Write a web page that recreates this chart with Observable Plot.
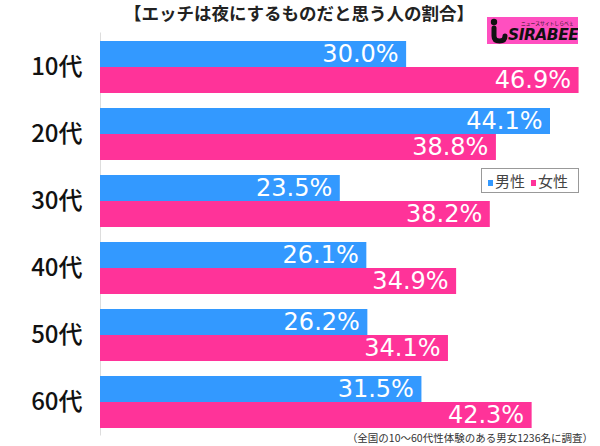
<!DOCTYPE html>
<html>
<head>
<meta charset="utf-8">
<script src="https://cdn.jsdelivr.net/npm/d3@7"></script>
<script src="https://cdn.jsdelivr.net/npm/@observablehq/plot@0.6"></script>
<style>
  html, body { margin: 0; padding: 0; background: #fff; }
  body { font-family: "Noto Sans CJK JP", "Noto Sans", sans-serif; }
  #wrap { position: relative; width: 600px; height: 446px; overflow: hidden; }
  #title { position: absolute; left: 0; top: 2px; width: 598px; text-align: center; font-size: 17.5px; font-weight: 700; color: #222; line-height: 22px; }
  #chart { position: absolute; left: 0; top: 30px; }
  #logo { position: absolute; left: 487px; top: 17px; width: 91px; height: 27px; background: #ff4fc0; overflow: hidden; }
  #logo .small { position: absolute; left: 34px; top: 4px; font-size: 10px; line-height: 10px; color: #111; white-space: nowrap; transform: scale(0.48); transform-origin: left top; }
  #logo svg { position: absolute; left: 1px; top: 0; }
  #logo .name { position: absolute; left: 21px; top: 8px; font-size: 15.5px; font-weight: 900; font-style: italic; color: #111; font-family: "DejaVu Sans", sans-serif; letter-spacing: -0.5px; line-height: 20px; }
  #legend { position: absolute; left: 481px; top: 168px; width: 96px; height: 23px; border: 1px solid #999; background: #fff; font-size: 15px; color: #444; line-height: 23px; white-space: nowrap; }
  #legend .sw { display: inline-block; width: 5px; height: 6px; margin: 0 2px 0 6px; vertical-align: 1px; }
  #caption { position: absolute; right: 7px; top: 430px; font-size: 10.5px; color: #333; line-height: 16px; white-space: nowrap; }
</style>
</head>
<body>
<div id="wrap">
  <div id="title"></div>
  <div id="chart"></div>
  <div id="logo">
    <svg width="22" height="27" viewBox="0 0 22 27">
      <circle cx="6" cy="5" r="3.2" fill="#111"/>
      <path d="M6,11 L6,19 Q6,24 11.5,24 Q17,24 17,19" stroke="#111" stroke-width="5" fill="none" stroke-linecap="round"/>
    </svg>
    <span class="small">ニュースサイトしらべぇ</span><span class="name">SIRABEE</span>
  </div>
  <div id="legend"></div>
  <div id="caption"></div>
</div>
<script>
const title = "【エッチは夜にするものだと思う人の割合】";
const caption = "（全国の10〜60代性体験のある男女1236名に調査）";
const ages = ["10代", "20代", "30代", "40代", "50代", "60代"];
const sexes = ["男性", "女性"];
const male = [30.0, 44.1, 23.5, 26.1, 26.2, 31.5];
const female = [46.9, 38.8, 38.2, 34.9, 34.1, 42.3];
const colors = ["#3399ff", "#ff3399"];

const data = ages.flatMap((a, i) => [
  {age: a, sex: sexes[0], value: male[i]},
  {age: a, sex: sexes[1], value: female[i]}
]);

document.getElementById("title").textContent = title;
document.getElementById("caption").textContent = caption;
document.getElementById("legend").innerHTML = sexes.map((s, i) =>
  `<span class="sw" style="background:${colors[i]}"></span>${s}`).join("");

const chart = Plot.plot({
  width: 600,
  height: 408,
  marginLeft: 100,
  marginRight: 0,
  marginTop: 0,
  marginBottom: 0,
  style: {fontFamily: "'Noto Sans CJK JP', sans-serif", background: "transparent"},
  x: {domain: [0, 49], axis: null},
  y: {domain: sexes, padding: 0, axis: null},
  fy: {domain: ages, axis: null, paddingInner: 0.21, paddingOuter: 0.1075},
  color: {domain: sexes, range: colors},
  marks: [
    Plot.ruleX(ages, {x: () => 0, fy: d => d, stroke: "#dddddd", insetTop: -7.5, insetBottom: -7.5}),
    Plot.barX(data, {x: "value", y: "sex", fy: "age", fill: "sex"}),
    Plot.text(data, {x: "value", y: "sex", fy: "age", text: d => d.value.toFixed(1) + "%",
      textAnchor: "end", dx: -8, fill: "white", fontSize: 24, fontWeight: 400,
      fontFamily: "'DejaVu Sans', sans-serif"}),
    Plot.text(ages, {fy: d => d, text: d => d, frameAnchor: "left", textAnchor: "end",
      dx: -18, fill: "#111", fontSize: 24, fontWeight: 500})
  ]
});
document.getElementById("chart").appendChild(chart);
</script>
</body>
</html>
